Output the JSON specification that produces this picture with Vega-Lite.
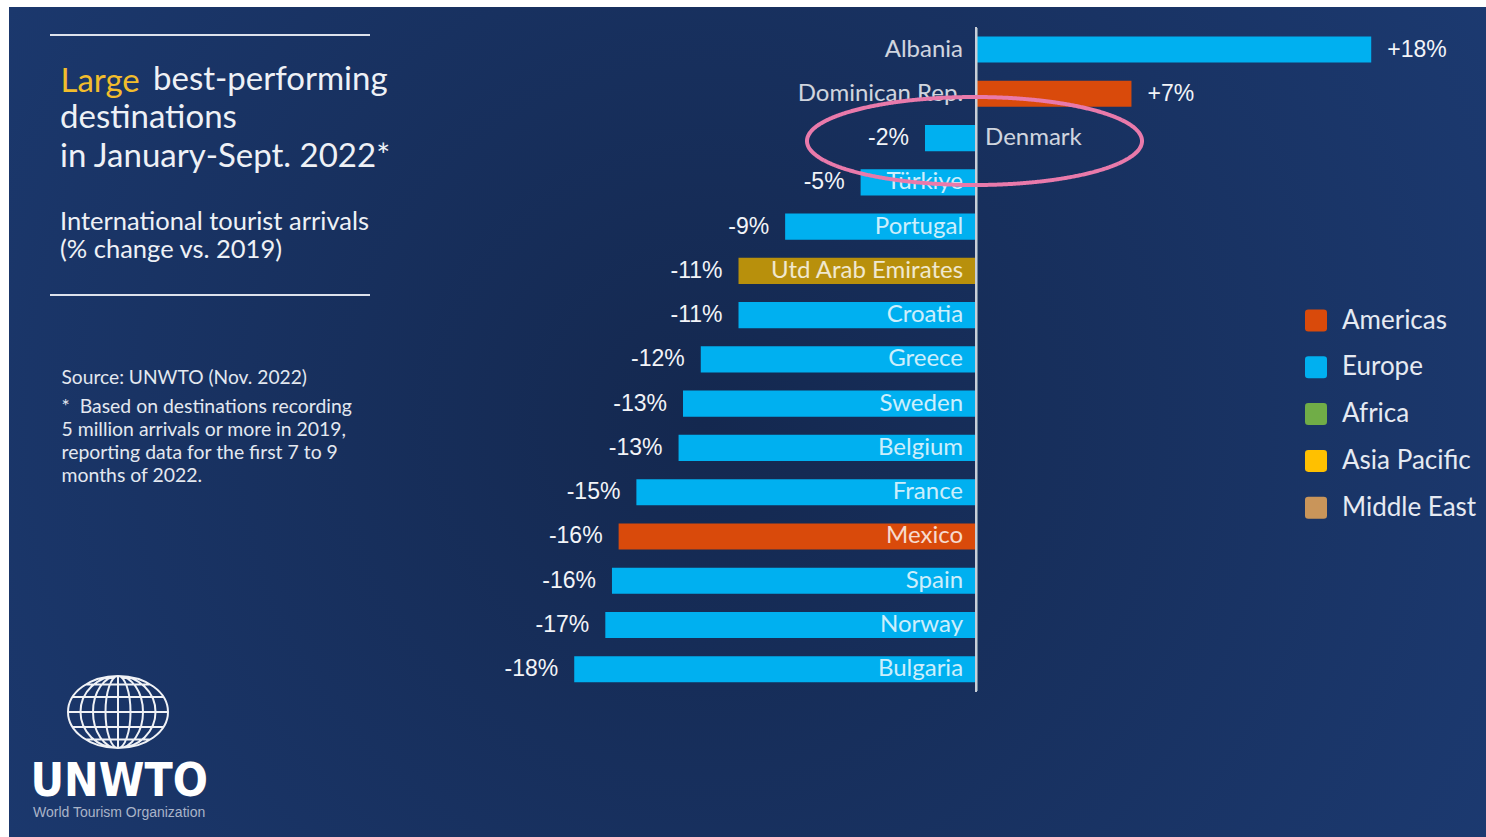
{
"$schema":"https://vega.github.io/schema/vega-lite/v6.json",
"width":1477,"height":830,
"autosize":{"type":"none"},
"padding":{"left":9,"top":7,"right":0,"bottom":0},
"background":"#ffffff",
"title":{"text":"best-performing","anchor":"start","frame":"group","orient":"top","offset":0,"dx":144,"dy":125,"font":"Lato","fontSize":33,"fontWeight":"normal","color":"#eef1f6","limit":2000},
"data":{"values":[
{"country":"Albania","region":"Europe","value":17.8,"label":"+18%"},
{"country":"Dominican Rep.","region":"Americas","value":7.0,"label":"+7%"},
{"country":"Denmark","region":"Europe","value":-2.3,"label":"-2%"},
{"country":"Türkiye","region":"Europe","value":-5.2,"label":"-5%"},
{"country":"Portugal","region":"Europe","value":-8.6,"label":"-9%"},
{"country":"Utd Arab Emirates","region":"Middle East","value":-10.7,"label":"-11%"},
{"country":"Croatia","region":"Europe","value":-10.7,"label":"-11%"},
{"country":"Greece","region":"Europe","value":-12.4,"label":"-12%"},
{"country":"Sweden","region":"Europe","value":-13.2,"label":"-13%"},
{"country":"Belgium","region":"Europe","value":-13.4,"label":"-13%"},
{"country":"France","region":"Europe","value":-15.3,"label":"-15%"},
{"country":"Mexico","region":"Americas","value":-16.1,"label":"-16%"},
{"country":"Spain","region":"Europe","value":-16.4,"label":"-16%"},
{"country":"Norway","region":"Europe","value":-16.7,"label":"-17%"},
{"country":"Bulgaria","region":"Europe","value":-18.1,"label":"-18%"}
]},
"layer":[
{"layer":[
 {"mark":{"type":"bar"},
  "encoding":{
   "x":{"field":"value","type":"quantitative","scale":{"domain":[-43.56,22.97],"nice":false,"zero":false},
        "axis":{"orient":"bottom","domain":false,"ticks":false,"labels":false,"grid":false,
          "title":["*\u00a0 Based on destinations recording","5 million arrivals or more in 2019,","reporting data for the first 7 to 9","months of 2022."],
          "titleX":52,"titleY":-425,"titleAlign":"left","titleBaseline":"alphabetic","titleFont":"Lato","titleFontSize":19.4,"titleFontWeight":"normal","titleColor":"#e3e8f0","titleLineHeight":23.3,"titleLimit":2000}},
   "x2":{"datum":0},
   "y":{"field":"country","type":"nominal","sort":null,
        "scale":{"range":[20.4,684.4],"paddingInner":0.41,"paddingOuter":0.205},
        "axis":{"orient":"left","domain":false,"ticks":false,"labels":false,"grid":false,"title":"Large","titleX":51,"titleY":84,"titleAngle":0,"titleAlign":"left","titleBaseline":"alphabetic","titleFont":"Lato","titleFontSize":33,"titleFontWeight":"normal","titleColor":"#f2bd2c","titleLimit":2000}},
   "color":{"field":"region","type":"nominal",
        "condition":{"test":"datum.country === 'Utd Arab Emirates'","value":"#b8900c"},
        "scale":{"domain":["Americas","Europe","Africa","Asia Pacific","Middle East"],"range":["#d94a0b","#00b0f0","#70ad47","#ffc000","#c9955a"]},
        "legend":{"orient":"none","legendX":1294,"legendY":300.5,"title":null,
          "symbolType":"M-1,-0.7 Q-1,-1 -0.7,-1 L0.7,-1 Q1,-1 1,-0.7 L1,0.7 Q1,1 0.7,1 L-0.7,1 Q-1,1 -1,0.7 Z",
          "symbolSize":484,"symbolStrokeWidth":0,"labelFont":"Lato","labelFontSize":26,"labelColor":"#e6eaf2","labelOffset":13,"rowPadding":20.8}}
  }},
 {"mark":{"type":"rule","color":"#c9ced8","strokeWidth":2,"yOffset":-22.1,"y2Offset":22.1},
  "encoding":{"x":{"datum":0},"y":{"datum":"Albania"},"y2":{"datum":"Bulgaria"}}},
 {"transform":[{"filter":"datum.country !== 'Denmark'"}],
  "mark":{"type":"text","align":"right","baseline":"middle","dx":-13,"font":"Lato","fontSize":24,"fill":"#ffffff","opacity":0.8},
  "encoding":{"x":{"datum":0},"y":{"field":"country","type":"nominal","sort":null},"text":{"field":"country"}}},
 {"transform":[{"filter":"datum.country === 'Denmark'"}],
  "mark":{"type":"text","align":"left","baseline":"middle","dx":9,"font":"Lato","fontSize":24,"fill":"#ffffff","opacity":0.8},
  "encoding":{"x":{"datum":0},"y":{"field":"country","type":"nominal","sort":null},"text":{"field":"country"}}},
 {"transform":[{"filter":"datum.value < 0"}],
  "mark":{"type":"text","align":"right","baseline":"middle","dx":-16,"font":"Liberation Sans","fontSize":23,"fill":"#f2f4f8"},
  "encoding":{"x":{"field":"value","type":"quantitative"},"y":{"field":"country","type":"nominal","sort":null},"text":{"field":"label"}}},
 {"transform":[{"filter":"datum.value > 0"}],
  "mark":{"type":"text","align":"left","baseline":"middle","dx":16,"font":"Liberation Sans","fontSize":23,"fill":"#f2f4f8"},
  "encoding":{"x":{"field":"value","type":"quantitative"},"y":{"field":"country","type":"nominal","sort":null},"text":{"field":"label"}}},
 {"mark":{"type":"point","opacity":0},
  "encoding":{
   "x":{"field":"value","type":"quantitative"},
   "y":{"field":"country","type":"nominal","sort":null},
   "fill":{"datum":1,"type":"quantitative","scale":{"domain":[0,1],"range":["#dde2ec","#dde2ec"]},
       "legend":{"orient":"none","legendX":41,"legendY":27,"direction":"horizontal","gradientLength":320,"gradientThickness":2,"gradientStrokeWidth":0,"labelOpacity":0,"title":null}},
   "stroke":{"datum":2,"type":"quantitative","scale":{"domain":[0,2],"range":["#dde2ec","#dde2ec"]},
       "legend":{"orient":"none","legendX":41,"legendY":287,"direction":"horizontal","gradientLength":320,"gradientThickness":2,"gradientStrokeWidth":0,"labelOpacity":0,"title":null}}
  }}
]},
{"mark":{"type":"point","opacity":0},
 "encoding":{
  "x":{"field":"value","type":"quantitative",
       "axis":{"orient":"top","domain":false,"ticks":false,"labels":false,"grid":false,"title":"Source: UNWTO (Nov. 2022)","titleX":52,"titleY":376,"titleAlign":"left","titleBaseline":"alphabetic","titleFont":"Lato","titleFontSize":19.2,"titleFontWeight":"normal","titleColor":"#e3e8f0","titleLimit":2000}},
  "y":{"field":"country","type":"nominal","sort":null,
       "axis":{"orient":"right","domain":false,"ticks":false,"labels":false,"grid":false,"title":"UNWTO","titleX":-1456,"titleY":788,"titleAngle":0,"titleAlign":"left","titleBaseline":"alphabetic","titleFont":"DejaVu Sans Condensed","titleFontSize":46,"titleFontWeight":"bold","titleColor":"#ffffff","titleLimit":2000}},
  "shape":{"datum":"globe","type":"nominal",
       "scale":{"range":["M1,0 C1,0.3977 0.5523,0.72 0,0.72 C-0.5523,0.72 -1,0.3977 -1,0 C-1,-0.3977 -0.5523,-0.72 0,-0.72 C0.5523,-0.72 1,-0.3977 1,0 Z M0.75,0 C0.75,0.3977 0.4142,0.72 0,0.72 C-0.4142,0.72 -0.75,0.3977 -0.75,0 C-0.75,-0.3977 -0.4142,-0.72 0,-0.72 C0.4142,-0.72 0.75,-0.3977 0.75,0 Z M0.5,0 C0.5,0.3977 0.2762,0.72 0,0.72 C-0.2762,0.72 -0.5,0.3977 -0.5,0 C-0.5,-0.3977 -0.2762,-0.72 0,-0.72 C0.2762,-0.72 0.5,-0.3977 0.5,0 Z M0.25,0 C0.25,0.3977 0.1381,0.72 0,0.72 C-0.1381,0.72 -0.25,0.3977 -0.25,0 C-0.25,-0.3977 -0.1381,-0.72 0,-0.72 C0.1381,-0.72 0.25,-0.3977 0.25,0 Z M0,-0.72 L0,0.72 M-1,0 L1,0 M-0.909,0.3 L0.909,0.3 M-0.909,-0.3 L0.909,-0.3 M-0.645,0.55 L0.645,0.55 M-0.645,-0.55 L0.645,-0.55"]},
       "legend":{"orient":"none","legendX":58,"legendY":654,"title":null,"symbolSize":10000,"labelExpr":"''","symbolFillColor":"transparent","symbolStrokeColor":"#f0f2f6","symbolStrokeWidth":2,"symbolOpacity":1}},
  "strokeDash":{"datum":"ring","type":"nominal","scale":{"range":[[1,0]]},
       "legend":{"orient":"none","legendX":796,"legendY":-35.5,"title":null,
         "symbolType":"M1,0 C1,0.1451 0.5523,0.2627 0,0.2627 C-0.5523,0.2627 -1,0.1451 -1,0 C-1,-0.1451 -0.5523,-0.2627 0,-0.2627 C0.5523,-0.2627 1,-0.1451 1,0 Z",
         "symbolSize":112225,"labelExpr":"''","symbolFillColor":"transparent","symbolStrokeColor":"#e97aab","symbolStrokeWidth":4,"symbolOpacity":1}},
  "opacity":{"datum":"wto","type":"ordinal","scale":{"range":[0]},
       "legend":{"orient":"none","legendX":24,"legendY":799,"title":"World Tourism Organization","titleFont":"Liberation Sans","titleFontSize":14,"titleColor":"#aab4c8","symbolOpacity":0,"symbolSize":0,"symbolFillColor":"transparent","symbolStrokeColor":"transparent","labelExpr":"''"}},
  "size":{"datum":"dest","type":"ordinal","scale":{"range":[0]},
       "legend":{"orient":"none","legendX":51,"legendY":95.2,"title":["destinations","in January-Sept. 2022*"],"titleFontSize":33,"titleLineHeight":38.4,"symbolOpacity":0,"symbolFillColor":"transparent","symbolStrokeColor":"transparent","labelExpr":"''"}},
  "strokeWidth":{"datum":"intl","type":"ordinal","scale":{"range":[0]},
       "legend":{"orient":"none","legendX":51,"legendY":202.5,"title":["International tourist arrivals","(% change vs. 2019)"],"titleFontSize":25.5,"titleLineHeight":28,"symbolOpacity":0,"symbolFillColor":"transparent","symbolStrokeColor":"transparent","labelExpr":"''"}}
 }}
],
"resolve":{"scale":{"x":"independent","y":"independent"},"axis":{"x":"independent","y":"independent"}},
"config":{
 "view":{"stroke":null,"fill":{"gradient":"radial","x1":0.47,"y1":0.5,"r1":0,"x2":0.47,"y2":0.5,"r2":0.62,"stops":[{"offset":0,"color":"#14284f"},{"offset":1,"color":"#1c3a71"}]}},
 "legend":{"padding":0,"titleLimit":2000,"labelLimit":2000,"titleFont":"Lato","titleFontWeight":"normal","titleColor":"#eef1f6","titlePadding":0,"zindex":1}
}
}
